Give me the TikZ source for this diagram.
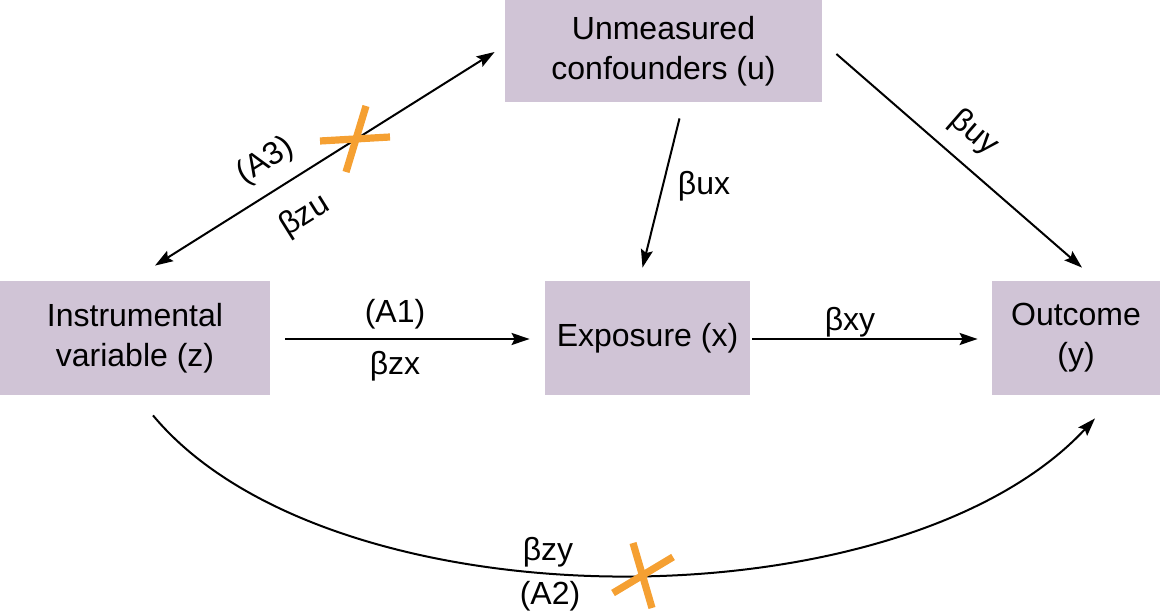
\documentclass[tikz,border=0pt]{standalone}
\usepackage{fontspec}
\setmainfont{Liberation Sans}
\usetikzlibrary{arrows.meta,calc}
\definecolor{boxfill}{RGB}{208,196,214}
\definecolor{xorange}{RGB}{245,160,50}
\tikzset{
  box/.style={fill=boxfill, draw=none, align=center, inner sep=0pt,
    font=\fontsize{16}{20}\selectfont},
  lbl/.style={font=\fontsize{16}{19}\selectfont, inner sep=0pt},
  tip/.style={},
  arr/.style={line width=1pt, -{Stealth[length=9pt,width=6pt,inset=1.5pt]}},
  darr/.style={line width=1pt, {Stealth[length=9pt,width=6pt,inset=1.5pt]}-{Stealth[length=9pt,width=6pt,inset=1.5pt]}},
  cross/.style={draw=xorange, line width=3.6pt},
}
\begin{document}
\begin{tikzpicture}[x=0.5pt,y=-0.5pt]
\useasboundingbox (0,0) rectangle (1160,613);
\node[box, minimum width=135pt, minimum height=57pt] (z) at (135,338) {Instrumental\\variable (z)};
\node[box, minimum width=102.5pt, minimum height=57pt] (x) at (647.5,338) {Exposure (x)};
\node[box, minimum width=84pt, minimum height=57pt] (y) at (1076,338) {Outcome\\(y)};
\node[box, minimum width=158.5pt, minimum height=51pt] (u) at (663.5,51) {Unmeasured\\confounders (u)};

% z -> x
\draw[arr] ($(z.east)+(15,1)$) -- ($(x.west)+(-15,1)$);
\node[lbl] (a1) at (395,314) {(A1)};
\node[lbl] (bzx) at (395,366) {βzx};
% x -> y
\draw[arr] ($(x.east)+(2,1)$) -- ($(y.west)+(-14,1)$);
\node[lbl] (bxy) at (850,322) {βxy};
% u -> x
\draw[arr] ($(u.south)+(16,16)$) -- ($(x.north)+(-5,-13)$);
\node[lbl] (bux) at (704,186) {βux};
% u -> y
\draw[arr] ($(u.east)+(14,3)$) -- ($(y.north)+(6,-13)$);
\node[lbl, rotate=-41] (buy) at (974,133) {βuy};
% z <-> u
\draw[darr] ($(z.north)+(20,-15)$) -- ($(u.west)+(-10,1)$);
\node[lbl, rotate=32] (a3) at (266,161) {(A3)};
\node[lbl, rotate=32] (bzu) at (305,216) {βzu};
% z -> y curve
\draw[arr] ($(z.south)+(18,20)$) .. controls (330,628) and (900,628) .. ($(y.south)+(19,23)$);
\node[lbl] (bzy) at (548,552) {βzy};
\node[lbl] (a2) at (550,596) {(A2)};

% crosses
\draw[cross] (366,106) -- (346,172);
\draw[cross] (320,141) -- (390,137);
\draw[cross] (633,543) -- (652,608);
\draw[cross] (673,557) -- (613,593);
\end{tikzpicture}
\end{document}
